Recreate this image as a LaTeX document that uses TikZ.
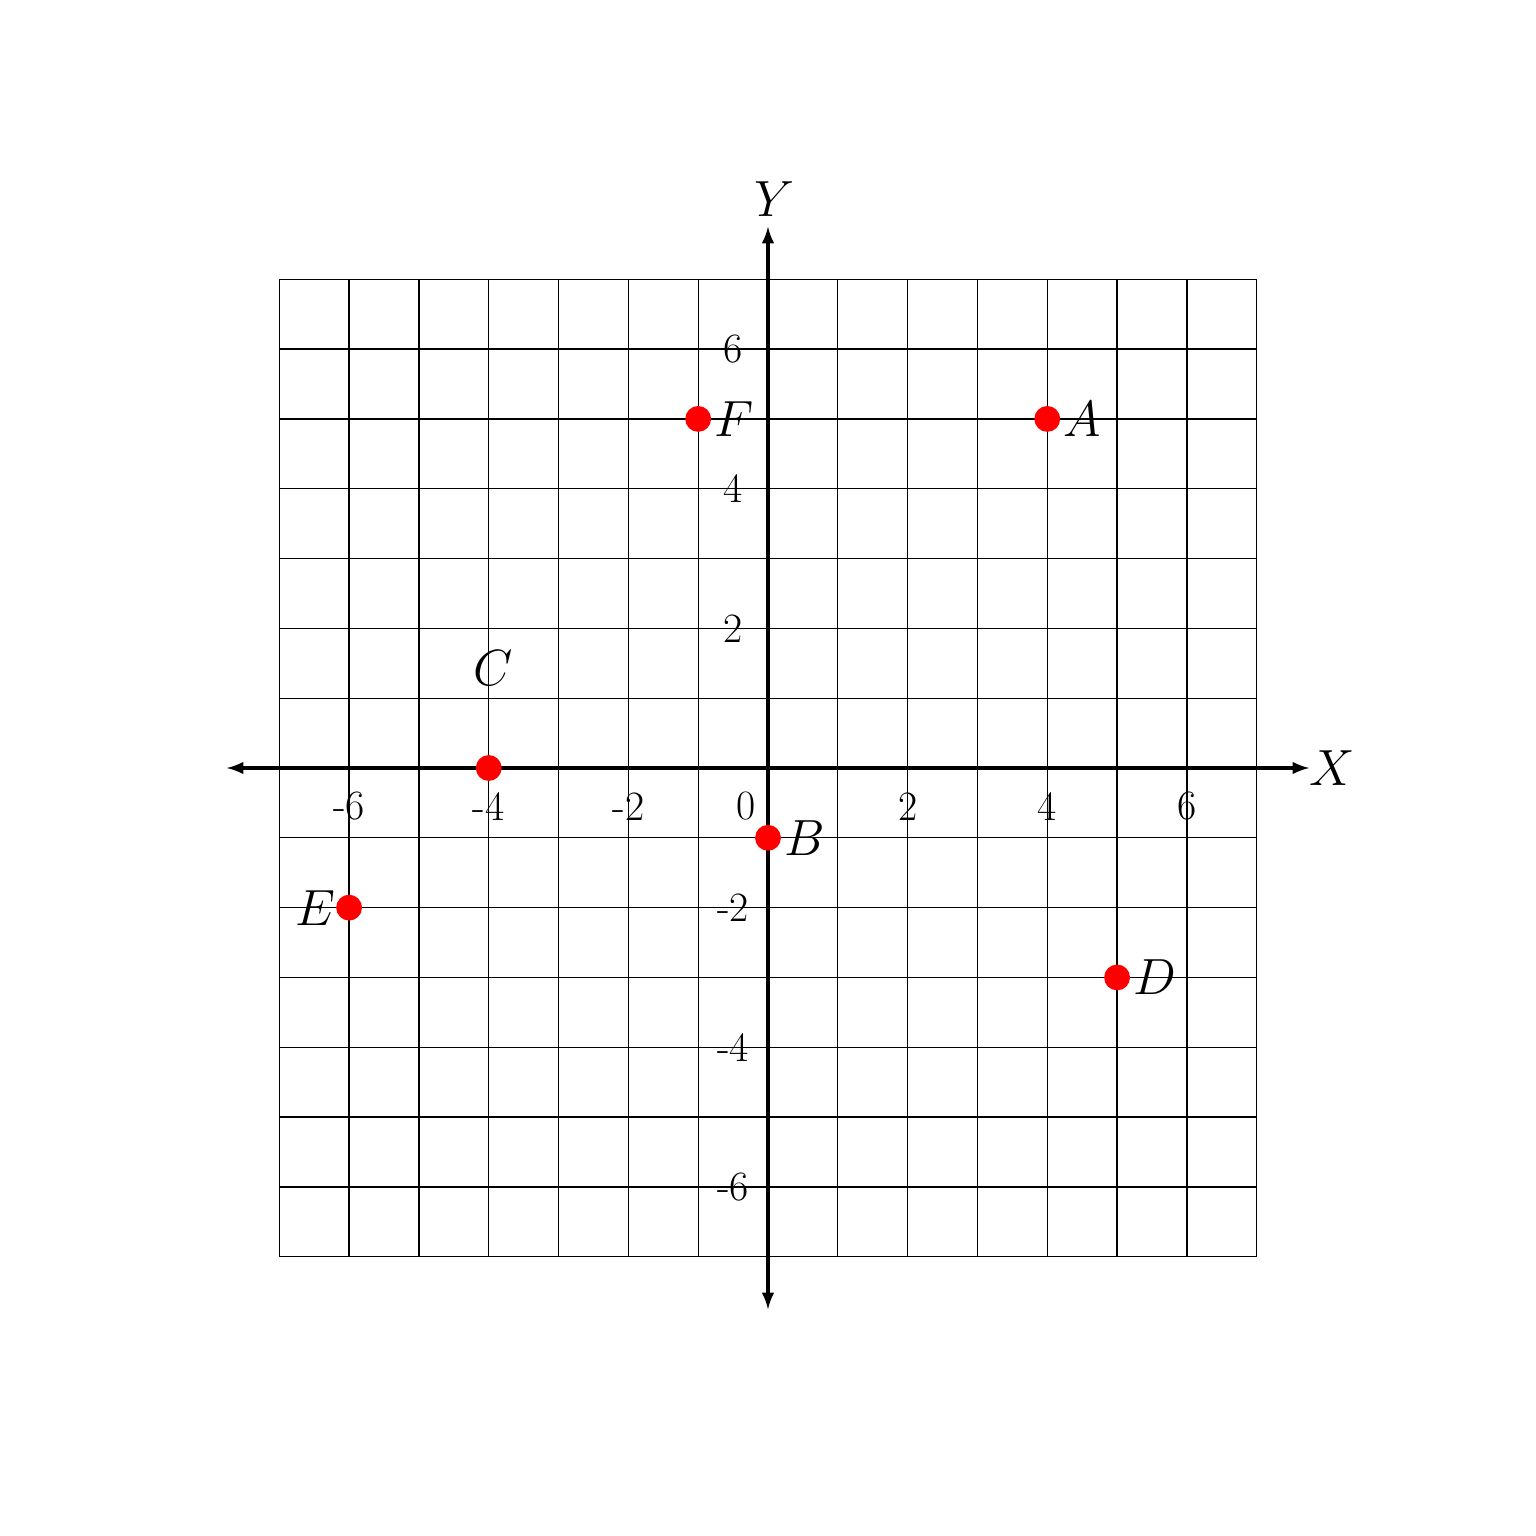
\documentclass[tikz,border=0pt]{standalone}
\usepackage{amsmath,amssymb}
\usetikzlibrary{arrows}
\tikzset{
  pt/.style={circle,fill=red,inner sep=0pt,minimum size=0.37cm},
  ptlabel/.style={font=\fontsize{22}{26}\selectfont,inner sep=1pt},
  ticklabel/.style={font=\fontsize{17}{20}\selectfont}
}
\begin{document}
\begin{tikzpicture}
    \def\n{7}
    \def\e{7.75}
    \useasboundingbox (-11,-11) rectangle (11,11);
    \coordinate (xl) at (-\e, 0);
    \coordinate (xr) at (\e, 0);
    \coordinate (yb) at (0, -\e);
    \coordinate (yt) at (0, \e);
    \draw[line width=0.5pt] (-\n,-\n) grid (\n,\n);
    \draw[latex-latex,line width=1.3pt] (xl) -- (xr);
    \draw[latex-latex,line width=1.3pt] (yb) -- (yt);
    \node[ptlabel,right,inner sep=0pt] (xlab) at (xr) {$X$};
    \node[ptlabel,above=0.1cm,xshift=0.1cm] (ylab) at (yt) {$Y$};
    % tick labels
    \foreach \x in {-6,-4,-2,2,4,6}
      \node[ticklabel] (tx\x) at (\x,-0.55) {\x};
    \foreach \y in {-6,-4,-2,2,4,6}
      \node[ticklabel] (ty\y) at (-0.5,\y) {\y};
    \node[ticklabel] (t0) at (-0.31,-0.55) {0};
    % points
    \node[pt,label={[ptlabel]right:$A$}] (A) at (4,5) {};
    \node[pt,label={[ptlabel]right:$B$}] (B) at (0,-1) {};
    \node[pt,label={[ptlabel,label distance=0.95cm,xshift=0.06cm]above:$C$}] (C) at (-4,0) {};
    \node[pt,label={[ptlabel]right:$D$}] (D) at (5,-3) {};
    \node[pt,label={[ptlabel,inner sep=0pt]left:$E$}] (E) at (-6,-2) {};
    \node[pt,label={[ptlabel]right:$F$}] (F) at (-1,5) {};
\end{tikzpicture}
\end{document}
